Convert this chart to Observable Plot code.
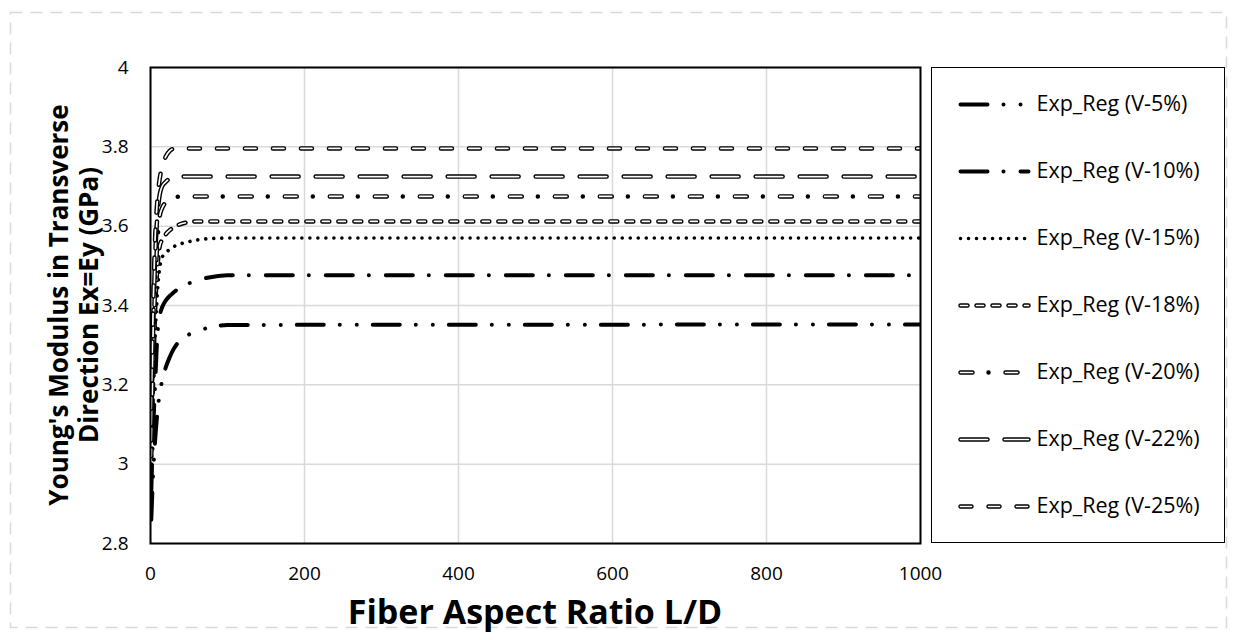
<!DOCTYPE html>
<html><head><meta charset="utf-8">
<script src="https://cdn.jsdelivr.net/npm/d3@7"></script>
<script src="https://cdn.jsdelivr.net/npm/@observablehq/plot@0.6"></script>
<style>
body{margin:0;background:#fff;}
#wrap{position:relative;width:1237px;height:640px;font-family:"Open Sans",sans-serif;color:#000;overflow:hidden;}
#wrap > *{position:absolute;}
#legend{left:931px;top:67px;width:294px;height:476px;box-sizing:border-box;border:1.5px solid #000;background:#fff;}
#legend svg{display:block;}
.xt{left:150px;width:770px;top:594px;text-align:center;font-weight:700;font-size:34px;line-height:34px;}
.yt{left:73px;top:305px;width:560px;margin-left:-280px;text-align:center;font-weight:700;font-size:26px;line-height:30px;transform:translateY(-50%) rotate(-90deg);}
</style></head>
<body><div id="wrap"></div>
<script>
const LD = [1,2,3,4,5,6,8,10,12,15,20,25,30,40,50,60,80,100,1000];
const v05 = [2.86,2.91,2.96,3.00,3.03,3.06,3.11,3.15,3.178,3.21,3.245,3.27,3.29,3.315,3.327,3.335,3.346,3.351,3.352];
const v10 = [2.93,3.00,3.06,3.11,3.16,3.20,3.29,3.35,3.375,3.395,3.413,3.424,3.433,3.447,3.456,3.463,3.472,3.476,3.476];
const v15 = [2.98,3.06,3.14,3.21,3.27,3.32,3.40,3.46,3.495,3.52,3.534,3.541,3.548,3.556,3.561,3.565,3.569,3.570,3.570];
const v18 = [3.02,3.10,3.18,3.26,3.33,3.39,3.47,3.52,3.55,3.565,3.58,3.59,3.597,3.606,3.610,3.612,3.612,3.612,3.612];
const v20 = [3.06,3.15,3.24,3.32,3.39,3.45,3.53,3.59,3.625,3.645,3.66,3.667,3.671,3.675,3.675,3.675,3.675,3.675,3.675];
const v22 = [3.10,3.20,3.30,3.39,3.46,3.52,3.60,3.65,3.68,3.70,3.712,3.72,3.724,3.725,3.725,3.725,3.725,3.725,3.725];
const v25 = [3.14,3.25,3.35,3.44,3.51,3.57,3.64,3.69,3.72,3.75,3.776,3.79,3.795,3.796,3.796,3.796,3.796,3.796,3.796];
const seriesNames = ["Exp_Reg (V-5%)","Exp_Reg (V-10%)","Exp_Reg (V-15%)","Exp_Reg (V-18%)","Exp_Reg (V-20%)","Exp_Reg (V-22%)","Exp_Reg (V-25%)"];
const seriesValues = [v05,v10,v15,v18,v20,v22,v25];
const xTicks = [0,200,400,600,800,1000];
const yTicks = [2.8,3,3.2,3.4,3.6,3.8,4];
const yTickLabels = ["2.8","3","3.2","3.4","3.6","3.8","4"];
const xTitle = "Fiber Aspect Ratio L/D";
const yTitle = ["Young's Modulus in Transverse","Direction Ex=Ey (GPa)"];

// line styles (dash patterns, widths, hollow flag)
const styles = [
  {dash:"27,16,0.01,17,0.01,16", w:4},
  {dash:"27,16,0.01,17", w:4},
  {dash:"0.01,8", w:3.6},
  {dash:"7,9", w:4.5, hollow:true, inner:"7,9"},
  {dash:"12,16,0.01,17", w:4.5, hollow:true, inner:"12,33"},
  {dash:"27,17", w:4.5, hollow:true, inner:"27,17"},
  {dash:"11,17", w:4.5, hollow:true, inner:"11,17"}
];

function lineMarks(data, s, extra) {
  const base = Object.assign({x:"x", y:"y", strokeLinecap:"round", strokeLinejoin:"round"}, extra);
  const out = [Plot.line(data, Object.assign({}, base, {stroke:"black", strokeWidth:s.w, strokeDasharray:s.dash}))];
  if (s.hollow) out.push(Plot.line(data, Object.assign({}, base, {stroke:"white", strokeWidth:1.7, strokeDasharray:s.inner})));
  return out;
}

const wrap = document.getElementById("wrap");

// outer dashed border
const ns = "http://www.w3.org/2000/svg";
const bsvg = document.createElementNS(ns,"svg");
bsvg.setAttribute("width",1237); bsvg.setAttribute("height",640);
bsvg.style.left="0px"; bsvg.style.top="0px";
const rect = document.createElementNS(ns,"rect");
rect.setAttribute("x",10.5); rect.setAttribute("y",12.5); rect.setAttribute("width",1216); rect.setAttribute("height",615);
rect.setAttribute("fill","none"); rect.setAttribute("stroke","#d9d9d9"); rect.setAttribute("stroke-width",1.5);
rect.setAttribute("stroke-dasharray","12,8");
bsvg.appendChild(rect);
wrap.appendChild(bsvg);

// main plot
const curveMarks = [];
seriesValues.forEach((vals, i) => {
  const data = LD.map((x, j) => ({x, y: vals[j]}));
  curveMarks.push(...lineMarks(data, styles[i], {curve:"monotone-x", clip:true}));
});

const chart = Plot.plot({
  width: 1237, height: 640,
  marginLeft: 150, marginRight: 317, marginTop: 67, marginBottom: 97,
  style: {fontFamily: "'Open Sans', sans-serif", background: "transparent", color: "#000"},
  x: {domain: [0, 1000]},
  y: {domain: [2.8, 4]},
  marks: [
    Plot.gridX(xTicks, {stroke: "#d9d9d9", strokeOpacity: 1, strokeWidth: 1.5}),
    Plot.gridY(yTicks, {stroke: "#d9d9d9", strokeOpacity: 1, strokeWidth: 1.5}),
    ...curveMarks,
    Plot.frame({stroke: "black", strokeWidth: 2}),
    Plot.axisX(xTicks, {tickSize: 0, tickPadding: 23, fontSize: 19, label: null, tickFormat: d => String(d)}),
    Plot.axisY(yTicks, {tickSize: 0, tickPadding: 22, fontSize: 19, label: null, tickFormat: d => yTickLabels[yTicks.indexOf(d)]})
  ]
});
chart.style.left = "0px"; chart.style.top = "0px";
wrap.appendChild(chart);

// titles
const xt = document.createElement("div"); xt.className = "xt"; xt.textContent = xTitle; wrap.appendChild(xt);
const yt = document.createElement("div"); yt.className = "yt"; yt.innerHTML = yTitle.join("<br>"); wrap.appendChild(yt);

// legend
const legDiv = document.createElement("div"); legDiv.id = "legend"; wrap.appendChild(legDiv);
const legMarks = [];
seriesNames.forEach((name, i) => {
  const data = [{x: 0, y: name}, {x: 1, y: name}];
  legMarks.push(...lineMarks(data, styles[i], {}));
});
legMarks.push(Plot.text(seriesNames, {x: () => 1, y: d => d, text: d => d, textAnchor: "start", dx: 8, fontSize: 21.5}));
const legend = Plot.plot({
  width: 291, height: 473, margin: 0,
  style: {fontFamily: "'Open Sans', sans-serif", background: "transparent", color: "#000", overflow: "visible"},
  x: {domain: [0, 1], range: [28, 96], axis: null},
  y: {type: "point", domain: seriesNames, range: [34, 440], padding: 0, axis: null},
  marks: legMarks
});
legDiv.appendChild(legend);
</script>
</body></html>
